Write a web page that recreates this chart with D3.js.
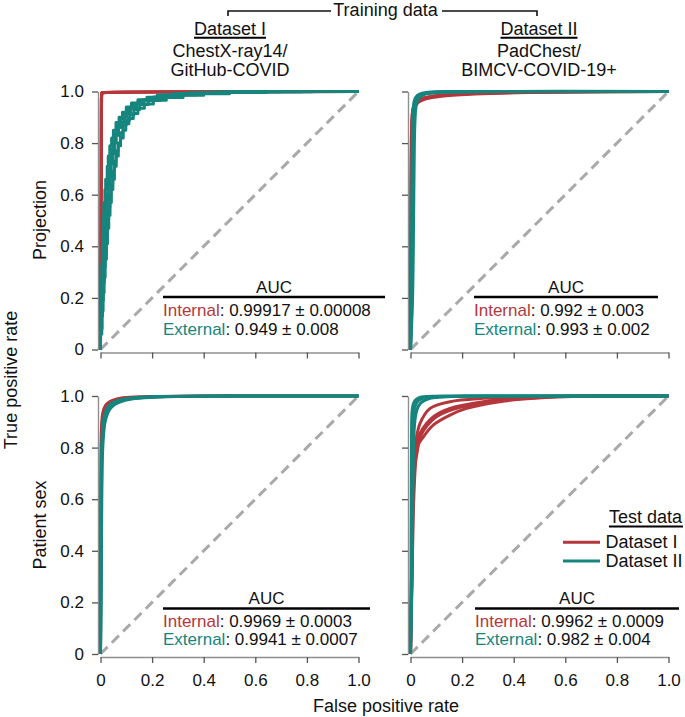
<!DOCTYPE html>
<html><head><meta charset="utf-8">
<script src="https://cdn.jsdelivr.net/npm/d3@7"></script>
<style>
body{margin:0;background:#fff}
svg{display:block}
text{font-family:"Liberation Sans",Arial,Helvetica,sans-serif;fill:#111}
</style>
</head><body>
<svg id="c" width="685" height="717"></svg>
<script>
const RED = "#b4373b", TEAL = "#16857e", DIAG = "#a9a9a9";

const tickValues = [0, 0.2, 0.4, 0.6, 0.8, 1.0];
const tickLabels = ["0", "0.2", "0.4", "0.6", "0.8", "1.0"];
const trainingTitle = "Training data";
const datasetNames = ["Dataset I", "Dataset II"];
const datasetSources = [["ChestX-ray14/", "GitHub-COVID"], ["PadChest/", "BIMCV-COVID-19+"]];
const rowLabels = ["Projection", "Patient sex"];
const xTitle = "False positive rate";
const yTitle = "True positive rate";
const aucTitle = "AUC";
const aucInternal = ["0.99917 ± 0.00008", "0.992 ± 0.003", "0.9969 ± 0.0003", "0.9962 ± 0.0009"];
const aucExternal = ["0.949 ± 0.008", "0.993 ± 0.002", "0.9941 ± 0.0007", "0.982 ± 0.004"];
const legendTitle = "Test data";
const legendLabels = ["Dataset I", "Dataset II"];

// ROC folds [FPR, TPR] — Projection, trained on Dataset I
const rocProjI_testI = [
  [[0,0],[0.002,0.45],[0.003,0.9],[0.004,0.993],[0.02,0.996],[0.2,0.998],[1,1]],
  [[0,0],[0.003,0.5],[0.004,0.95],[0.005,0.995],[0.05,0.997],[0.3,0.999],[1,1]],
  [[0,0],[0.002,0.6],[0.003,0.97],[0.006,0.996],[0.1,0.998],[1,1]]
];
const rocProjI_testII = [
  [[0,0],[0.001,0.08],[0.002,0.15],[0.004,0.2],[0.005,0.28],[0.007,0.33],[0.008,0.4],[0.011,0.46],[0.013,0.52],[0.017,0.57],[0.02,0.62],[0.026,0.66],[0.03,0.71],[0.036,0.75],[0.043,0.79],[0.05,0.82],[0.06,0.85],[0.072,0.88],[0.085,0.9],[0.1,0.92],[0.12,0.94],[0.145,0.955],[0.18,0.968],[0.22,0.978],[0.28,0.986],[0.35,0.991],[0.45,0.995],[0.6,0.998],[0.75,1],[1,1]],
  [[0,0],[0.003,0.07],[0.004,0.14],[0.006,0.21],[0.009,0.27],[0.011,0.34],[0.014,0.39],[0.016,0.45],[0.02,0.5],[0.024,0.56],[0.028,0.6],[0.033,0.65],[0.039,0.7],[0.046,0.74],[0.052,0.78],[0.058,0.81],[0.067,0.84],[0.078,0.87],[0.092,0.895],[0.108,0.915],[0.13,0.935],[0.155,0.952],[0.19,0.966],[0.235,0.977],[0.3,0.986],[0.38,0.992],[0.5,0.996],[0.65,0.999],[0.8,1],[1,1]],
  [[0,0],[0.004,0.09],[0.006,0.17],[0.009,0.22],[0.012,0.3],[0.015,0.35],[0.019,0.42],[0.022,0.47],[0.026,0.53],[0.03,0.58],[0.035,0.63],[0.041,0.67],[0.047,0.72],[0.054,0.76],[0.061,0.8],[0.07,0.83],[0.078,0.86],[0.09,0.88],[0.102,0.9],[0.118,0.92],[0.14,0.94],[0.168,0.955],[0.205,0.968],[0.26,0.979],[0.33,0.987],[0.42,0.993],[0.55,0.997],[0.7,0.999],[0.85,1],[1,1]],
  [[0,0],[0.005,0.06],[0.008,0.13],[0.011,0.19],[0.015,0.26],[0.018,0.32],[0.023,0.38],[0.027,0.44],[0.031,0.49],[0.036,0.55],[0.04,0.6],[0.047,0.64],[0.053,0.69],[0.06,0.73],[0.068,0.77],[0.077,0.8],[0.087,0.84],[0.1,0.87],[0.113,0.89],[0.13,0.91],[0.152,0.93],[0.185,0.95],[0.23,0.965],[0.29,0.977],[0.37,0.986],[0.47,0.992],[0.6,0.996],[0.78,0.999],[0.9,1],[1,1]],
  [[0,0],[0.006,0.08],[0.01,0.15],[0.014,0.22],[0.018,0.28],[0.023,0.35],[0.027,0.41],[0.032,0.47],[0.037,0.52],[0.042,0.57],[0.048,0.62],[0.054,0.66],[0.061,0.71],[0.069,0.75],[0.078,0.79],[0.088,0.82],[0.098,0.85],[0.11,0.875],[0.127,0.895],[0.145,0.915],[0.17,0.935],[0.205,0.952],[0.255,0.966],[0.32,0.977],[0.4,0.985],[0.5,0.991],[0.64,0.996],[0.82,0.999],[0.95,1],[1,1]]
];
// Projection, trained on Dataset II
const rocProjII_testI = [
  [[0,0],[0.001,0.3],[0.002,0.6],[0.003,0.8],[0.005,0.88],[0.008,0.92],[0.014,0.945],[0.025,0.962],[0.05,0.975],[0.1,0.984],[0.2,0.99],[0.4,0.996],[0.7,0.999],[1,1]],
  [[0,0],[0.002,0.3],[0.003,0.6],[0.005,0.78],[0.007,0.86],[0.011,0.91],[0.018,0.94],[0.03,0.958],[0.06,0.972],[0.12,0.982],[0.25,0.99],[0.45,0.996],[0.75,0.999],[1,1]],
  [[0,0],[0.001,0.35],[0.002,0.65],[0.004,0.84],[0.006,0.9],[0.01,0.935],[0.02,0.955],[0.04,0.97],[0.08,0.98],[0.16,0.988],[0.3,0.994],[0.55,0.998],[1,1]]
];
const rocProjII_testII = [
  [[0,0],[0.003,0.2],[0.005,0.5],[0.007,0.8],[0.009,0.9],[0.011,0.94],[0.015,0.965],[0.022,0.98],[0.035,0.99],[0.06,0.996],[0.12,0.999],[0.3,1],[1,1]],
  [[0,0],[0.006,0.2],[0.009,0.5],[0.011,0.75],[0.013,0.88],[0.016,0.93],[0.021,0.96],[0.03,0.978],[0.045,0.989],[0.08,0.995],[0.15,0.998],[0.35,1],[1,1]],
  [[0,0],[0.008,0.2],[0.012,0.5],[0.015,0.8],[0.018,0.9],[0.022,0.945],[0.03,0.97],[0.045,0.985],[0.07,0.993],[0.12,0.997],[0.25,0.999],[0.5,1],[1,1]],
  [[0,0],[0.004,0.3],[0.007,0.6],[0.01,0.85],[0.013,0.92],[0.018,0.955],[0.026,0.975],[0.04,0.987],[0.065,0.994],[0.1,0.998],[0.2,1],[1,1]]
];
// Patient sex, trained on Dataset I
const rocSexI_testI = [
  [[0,0],[0.001,0.4],[0.002,0.75],[0.003,0.85],[0.005,0.9],[0.008,0.93],[0.013,0.95],[0.02,0.965],[0.035,0.978],[0.06,0.988],[0.1,0.994],[0.2,0.998],[0.4,1],[1,1]],
  [[0,0],[0.001,0.4],[0.002,0.7],[0.004,0.84],[0.006,0.89],[0.01,0.925],[0.016,0.948],[0.025,0.963],[0.04,0.976],[0.07,0.987],[0.12,0.994],[0.25,0.998],[0.5,1],[1,1]]
];
const rocSexI_testII = [
  [[0,0],[0.002,0.3],[0.003,0.6],[0.005,0.8],[0.008,0.87],[0.012,0.91],[0.018,0.935],[0.027,0.955],[0.04,0.97],[0.06,0.98],[0.09,0.988],[0.14,0.994],[0.25,0.998],[0.5,1],[1,1]],
  [[0,0],[0.003,0.3],[0.005,0.6],[0.008,0.78],[0.012,0.85],[0.017,0.895],[0.025,0.925],[0.035,0.947],[0.05,0.963],[0.075,0.976],[0.11,0.986],[0.17,0.993],[0.3,0.998],[0.6,1],[1,1]],
  [[0,0],[0.002,0.35],[0.004,0.65],[0.006,0.8],[0.01,0.86],[0.015,0.9],[0.022,0.93],[0.032,0.952],[0.045,0.967],[0.068,0.979],[0.1,0.987],[0.16,0.994],[0.28,0.998],[0.55,1],[1,1]]
];
// Patient sex, trained on Dataset II
const rocSexII_testI = [
  [[0,0],[0.004,0.3],[0.007,0.6],[0.012,0.75],[0.02,0.82],[0.037,0.894],[0.076,0.952],[0.153,0.978],[0.282,0.991],[0.475,0.998],[0.7,1],[1,1]],
  [[0,0],[0.005,0.3],[0.009,0.6],[0.015,0.72],[0.025,0.8],[0.037,0.855],[0.089,0.92],[0.153,0.952],[0.282,0.978],[0.475,0.995],[0.75,1],[1,1]],
  [[0,0],[0.005,0.3],[0.01,0.6],[0.016,0.71],[0.027,0.79],[0.042,0.85],[0.095,0.915],[0.165,0.948],[0.3,0.976],[0.5,0.994],[0.78,1],[1,1]],
  [[0,0],[0.006,0.3],[0.011,0.55],[0.017,0.7],[0.024,0.8],[0.05,0.842],[0.089,0.888],[0.153,0.926],[0.217,0.952],[0.346,0.978],[0.54,0.995],[0.8,1],[1,1]]
];
const rocSexII_testII = [
  [[0,0],[0.002,0.3],[0.003,0.6],[0.004,0.85],[0.005,0.92],[0.007,0.95],[0.011,0.97],[0.018,0.983],[0.03,0.992],[0.05,0.997],[0.1,0.999],[0.25,1],[1,1]],
  [[0,0],[0.004,0.3],[0.006,0.6],[0.008,0.82],[0.01,0.9],[0.013,0.935],[0.018,0.96],[0.026,0.977],[0.04,0.988],[0.065,0.995],[0.12,0.999],[0.3,1],[1,1]],
  [[0,0],[0.006,0.3],[0.009,0.6],[0.012,0.8],[0.015,0.88],[0.02,0.925],[0.027,0.952],[0.037,0.97],[0.055,0.983],[0.08,0.992],[0.14,0.997],[0.35,1],[1,1]]
];

const svg = d3.select("#c");
const SIZE = 258;

const panels = [
  {x0:100.5, y0:91.5, red:rocProjI_testI, teal:rocProjI_testII, jag:true, xlab:false, ylab:true,
   auc:{x:163, x2:385, aucY:292.5, lineY:297, intY:316, extY:335}},
  {x0:410.5, y0:91.5, red:rocProjII_testI, teal:rocProjII_testII, jag:false, xlab:false, ylab:false,
   auc:{x:474, x2:658, aucY:292.5, lineY:297, intY:316, extY:335}},
  {x0:100.5, y0:396, red:rocSexI_testI, teal:rocSexI_testII, jag:false, xlab:true, ylab:true,
   auc:{x:163, x2:370, aucY:604, lineY:608.5, intY:627, extY:645}},
  {x0:410.5, y0:396, red:rocSexII_testI, teal:rocSexII_testII, jag:false, xlab:true, ylab:false,
   auc:{x:475, x2:679, aucY:604, lineY:608.5, intY:627, extY:645}}
];

panels.forEach((p, i) => {
  const x = d3.scaleLinear([0, 1], [p.x0, p.x0 + SIZE]);
  const y = d3.scaleLinear([0, 1], [p.y0 + SIZE, p.y0]);
  const g = svg.append("g");

  const ya = g.append("g").attr("transform", `translate(${p.x0 - 2.5},0)`)
    .call(d3.axisLeft(y).tickValues(tickValues).tickSize(6).tickSizeOuter(0).tickPadding(8)
      .tickFormat((d, k) => p.ylab ? tickLabels[k] : ""));
  const xa = g.append("g").attr("transform", `translate(0,${p.y0 + SIZE + 3})`)
    .call(d3.axisBottom(x).tickValues(tickValues).tickSize(6).tickSizeOuter(0).tickPadding(11)
      .tickFormat((d, k) => p.xlab ? tickLabels[k] : ""));
  [ya, xa].forEach(a => {
    a.select(".domain").attr("stroke", "#8f8f8f").attr("stroke-width", 1.4);
    a.selectAll(".tick line").attr("stroke", "#555").attr("stroke-width", 1.3);
    a.selectAll(".tick text").attr("font-size", 17).attr("fill", "#111")
      .style("font-family", '"Liberation Sans",Arial,sans-serif');
  });

  g.append("line").attr("x1", x(0)).attr("y1", y(0)).attr("x2", x(1)).attr("y2", y(1))
    .attr("stroke", DIAG).attr("stroke-width", 3).attr("stroke-dasharray", "10,6");

  const line = d3.line().x(d => x(d[0])).y(d => y(d[1]))
    .curve(p.jag ? d3.curveStepBefore : d3.curveCatmullRom.alpha(0.5));
  const redLine = d3.line().x(d => x(d[0])).y(d => y(d[1]))
    .curve(p.jag ? d3.curveLinear : d3.curveCatmullRom.alpha(0.5));
  p.red.forEach(f => g.append("path").attr("d", redLine(f)).attr("fill", "none")
    .attr("stroke", RED).attr("stroke-width", 3).attr("stroke-linejoin", "round"));
  p.teal.forEach(f => g.append("path").attr("d", line(f)).attr("fill", "none")
    .attr("stroke", TEAL).attr("stroke-width", 3).attr("stroke-linejoin", "round"));

  const a = p.auc;
  g.append("text").attr("x", (a.x + a.x2) / 2).attr("y", a.aucY).attr("text-anchor", "middle")
    .attr("font-size", 17).text(aucTitle);
  g.append("line").attr("x1", a.x).attr("x2", a.x2).attr("y1", a.lineY).attr("y2", a.lineY)
    .attr("stroke", "#000").attr("stroke-width", 2.4);
  const t1 = g.append("text").attr("x", a.x).attr("y", a.intY).attr("font-size", 17);
  t1.append("tspan").style("fill", RED).text("Internal");
  t1.append("tspan").text(": " + aucInternal[i]);
  const t2 = g.append("text").attr("x", a.x).attr("y", a.extY).attr("font-size", 17);
  t2.append("tspan").style("fill", TEAL).text("External");
  t2.append("tspan").text(": " + aucExternal[i]);
});

// Header
svg.append("text").attr("x", 385.5).attr("y", 15.5).attr("text-anchor", "middle")
  .attr("font-size", 18).text(trainingTitle);
svg.append("path").attr("d", "M228,16V11H331M442,11H537V16")
  .attr("fill", "none").attr("stroke", "#111").attr("stroke-width", 1.6);

const colCenters = [230, 539];
datasetNames.forEach((n, i) => {
  const t = svg.append("text").attr("x", colCenters[i]).attr("y", 35).attr("text-anchor", "middle")
    .attr("font-size", 18).text(n);
  const w = t.node().getComputedTextLength();
  svg.append("line").attr("x1", colCenters[i] - w / 2).attr("x2", colCenters[i] + w / 2)
    .attr("y1", 37.8).attr("y2", 37.8).attr("stroke", "#000").attr("stroke-width", 2);
  datasetSources[i].forEach((s, j) => {
    svg.append("text").attr("x", colCenters[i]).attr("y", 57 + j * 19).attr("text-anchor", "middle")
      .attr("font-size", 18).text(s);
  });
});

// Axis titles
svg.append("text").attr("transform", "translate(17,380) rotate(-90)").attr("text-anchor", "middle")
  .attr("font-size", 18).text(yTitle);
const rowCenters = [220, 525];
rowLabels.forEach((r, i) => {
  svg.append("text").attr("transform", `translate(46,${rowCenters[i]}) rotate(-90)`)
    .attr("text-anchor", "middle").attr("font-size", 18).text(r);
});
svg.append("text").attr("x", 386).attr("y", 712).attr("text-anchor", "middle")
  .attr("font-size", 18).text(xTitle);

// Legend
const lt = svg.append("text").attr("x", 682).attr("y", 523).attr("text-anchor", "end")
  .attr("font-size", 18).text(legendTitle);
const lw = lt.node().getComputedTextLength();
svg.append("line").attr("x1", 682 - lw).attr("x2", 683).attr("y1", 526.5).attr("y2", 526.5)
  .attr("stroke", "#000").attr("stroke-width", 2);
const legColors = [RED, TEAL];
legendLabels.forEach((l, i) => {
  const yy = 542.3 + i * 18.7;
  svg.append("line").attr("x1", 563).attr("x2", 600).attr("y1", yy).attr("y2", yy)
    .attr("stroke", legColors[i]).attr("stroke-width", 3);
  svg.append("text").attr("x", 605.5).attr("y", yy + 6).attr("font-size", 18).text(l);
});
</script>
</body></html>
